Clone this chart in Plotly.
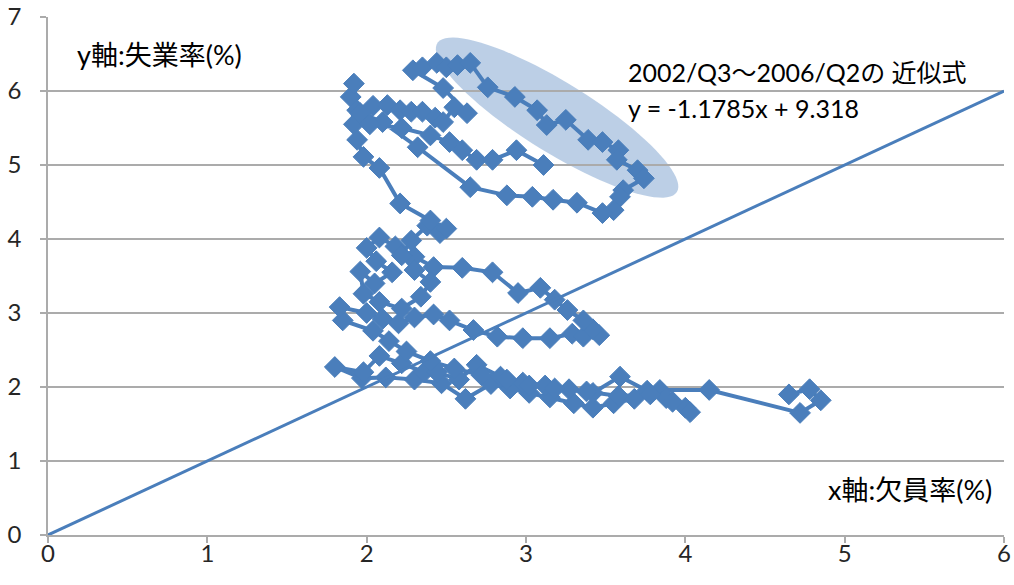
import numpy as np
import plotly.graph_objects as go

# Quarterly vacancy rate (x, %) and unemployment rate (y, %), in time order
vacancy_rate = [
    4.65, 4.78, 4.85, 4.72, 4.15, 3.84, 3.68, 3.55, 3.42, 3.30,
    3.15, 3.02, 2.90, 2.78, 2.62, 2.47, 2.30, 2.12, 1.97, 1.80,
    1.98, 2.08, 2.22, 2.36, 2.44, 2.58, 2.69, 2.84, 2.98, 3.12,
    3.27, 3.42, 3.59, 3.76, 3.88, 4.00, 4.03, 3.92, 3.78, 3.58,
    3.38, 3.18, 3.02, 2.88, 2.72, 2.55, 2.40, 2.25, 2.14, 2.04,
    1.85, 1.83, 2.00, 2.10, 2.20, 2.30, 2.42, 2.52, 2.67, 2.82,
    2.98, 3.15, 3.29, 3.36, 3.46, 3.42, 3.36, 3.26, 3.18, 3.09,
    2.95, 2.79, 2.60, 2.42, 2.30, 2.18, 2.08, 2.00, 2.06, 2.16,
    2.05, 1.96, 1.98, 2.08, 2.22, 2.34, 2.40, 2.30, 2.22, 2.28,
    2.38, 2.46, 2.50, 2.40, 2.21, 2.08, 1.98, 1.94, 1.92, 1.90,
    1.92, 1.94, 2.04, 2.13, 2.21, 2.28, 2.35, 2.43, 2.48, 2.55,
    2.63, 2.48, 2.29, 2.35, 2.44, 2.50, 2.57, 2.65, 2.76, 2.93,
    3.07, 3.13, 3.25, 3.39, 3.48, 3.58, 3.57, 3.70, 3.74, 3.61,
    3.59, 3.55, 3.48, 3.32, 3.17, 3.04, 2.88, 2.65, 2.32, 2.10,
    1.96, 2.02, 2.22, 2.40, 2.52, 2.60, 2.69, 2.79, 2.94, 3.11,
]
unemployment_rate = [
    1.90, 1.97, 1.82, 1.65, 1.96, 1.96, 1.84, 1.78, 1.72, 1.78,
    1.86, 1.92, 1.98, 2.04, 1.84, 2.05, 2.10, 2.13, 2.12, 2.27,
    2.20, 2.42, 2.32, 2.20, 2.20, 2.10, 2.30, 2.14, 2.06, 2.02,
    1.97, 1.92, 2.14, 1.95, 1.85, 1.72, 1.66, 1.80, 1.90, 1.88,
    1.94, 1.98, 2.02, 2.10, 2.16, 2.25, 2.35, 2.48, 2.62, 2.76,
    2.90, 3.08, 3.00, 2.92, 2.86, 2.94, 2.98, 2.90, 2.77, 2.68,
    2.66, 2.66, 2.72, 2.68, 2.70, 2.78, 2.90, 3.04, 3.18, 3.34,
    3.27, 3.55, 3.61, 3.62, 3.76, 3.90, 4.02, 3.88, 3.70, 3.55,
    3.40, 3.56, 3.26, 3.15, 3.06, 3.22, 3.42, 3.58, 3.78, 3.98,
    4.18, 4.08, 4.14, 4.25, 4.48, 4.96, 5.11, 5.34, 5.55, 5.92,
    6.10, 5.74, 5.80, 5.81, 5.74, 5.72, 5.72, 5.64, 5.58, 5.78,
    5.70, 6.04, 6.28, 6.32, 6.38, 6.32, 6.35, 6.38, 6.05, 5.92,
    5.74, 5.54, 5.61, 5.34, 5.31, 5.20, 5.07, 4.93, 4.82, 4.66,
    4.57, 4.39, 4.35, 4.49, 4.53, 4.57, 4.59, 4.70, 5.24, 5.58,
    5.70, 5.55, 5.50, 5.40, 5.31, 5.20, 5.07, 5.07, 5.20, 5.00,
]

# 45-degree reference line (u = v)
ref_x = [0, 6]
ref_y = [0, 6]

x_ticks = [0, 1, 2, 3, 4, 5, 6]
y_ticks = [0, 1, 2, 3, 4, 5, 6, 7]

BLUE = "#4a7ebb"
GRID = "#ababab"
FONT = "Lato, 'Noto Sans CJK JP', sans-serif"

W, H = 1014, 585
M = dict(l=48, r=10, t=17, b=50)
px_per_x = (W - M["l"] - M["r"]) / 6.0
px_per_y = (H - M["t"] - M["b"]) / 7.0

fig = go.Figure()

fig.add_trace(go.Scatter(
    x=vacancy_rate, y=unemployment_rate, mode="lines+markers",
    line=dict(color=BLUE, width=4),
    marker=dict(symbol="diamond", size=16, color=BLUE,
                line=dict(color=BLUE, width=1)),
    showlegend=False, hoverinfo="skip",
))
fig.add_trace(go.Scatter(
    x=ref_x, y=ref_y, mode="lines",
    line=dict(color=BLUE, width=3),
    showlegend=False, hoverinfo="skip",
))

# Highlight ellipse around the 2002/Q3-2006/Q2 stretch (built in pixel space, tilted)
cx, cy = 3.195, 5.64
a_px, b_px = 141.0, 35.0
ang = np.arctan2(0.527, 0.85)  # screen-space tilt, y downward
t = np.linspace(0, 2 * np.pi, 90)
ex = a_px * np.cos(t) * np.cos(ang) - b_px * np.sin(t) * np.sin(ang)
ey = a_px * np.cos(t) * np.sin(ang) + b_px * np.sin(t) * np.cos(ang)
xs = cx + ex / px_per_x
ys = cy - ey / px_per_y
path = "M " + " L ".join(f"{x:.4f},{y:.4f}" for x, y in zip(xs, ys)) + " Z"
fig.add_shape(type="path", path=path, xref="x", yref="y",
              fillcolor="rgba(79,129,189,0.38)", line=dict(width=0),
              layer="below")

ann_font = dict(family=FONT, size=25, color="#000000")
axis_font = dict(family=FONT, size=27, color="#000000")
fig.add_annotation(x=0.17, y=6.49, xref="x", yref="y", text="y軸:失業率(%)",
                   showarrow=False, xanchor="left", yanchor="middle", font=axis_font)
fig.add_annotation(x=4.88, y=0.61, xref="x", yref="y", text="x軸:欠員率(%)",
                   showarrow=False, xanchor="left", yanchor="middle", font=axis_font)
fig.add_annotation(x=3.63, y=6.26, xref="x", yref="y", text="2002/Q3～2006/Q2の 近似式",
                   showarrow=False, xanchor="left", yanchor="middle", font=ann_font)
fig.add_annotation(x=3.63, y=5.77, xref="x", yref="y", text="y = -1.1785x + 9.318",
                   showarrow=False, xanchor="left", yanchor="middle", font=ann_font)

fig.update_xaxes(
    range=[0, 6], tickvals=x_ticks, ticktext=[str(v) for v in x_ticks],
    showgrid=False, zeroline=False, showline=True, linecolor=GRID, linewidth=1.5,
    ticks="outside", ticklen=6, tickcolor=GRID, tickwidth=1.5,
    ticklabelstandoff=-10, automargin=False,
    tickfont=dict(family=FONT, size=24, color="#262626"),
)
fig.update_yaxes(
    range=[0, 7], tickvals=y_ticks, ticktext=[str(v) for v in y_ticks],
    showgrid=True, gridcolor=GRID, gridwidth=1.5, zeroline=False,
    showline=True, linecolor=GRID, linewidth=1.5,
    ticks="outside", ticklen=6, tickcolor=GRID, tickwidth=1.5,
    ticklabelstandoff=14, automargin=False,
    tickfont=dict(family=FONT, size=24, color="#262626"),
)
fig.update_layout(
    width=W, height=H, margin=M,
    paper_bgcolor="white", plot_bgcolor="white",
)

fig.write_html("out.html")
